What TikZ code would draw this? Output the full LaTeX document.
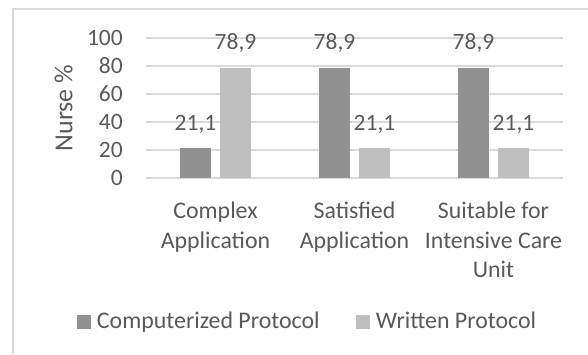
\documentclass[tikz,border=0pt]{standalone}
\usepackage{fontspec}
\setmainfont{Carlito}
\definecolor{frame}{RGB}{217,217,217}
\definecolor{grid}{RGB}{217,217,217}
\definecolor{txt}{RGB}{89,89,89}
\definecolor{darkbar}{RGB}{145,145,145}
\definecolor{lightbar}{RGB}{191,191,191}
\tikzset{
  lbl/.style={text=txt, inner sep=0pt, font=\fontsize{17.6pt}{22pt}\selectfont},
  catlbl/.style={text=txt, inner sep=0pt, align=center, font=\fontsize{17.9pt}{22pt}\selectfont},
  ttl/.style={text=txt, inner sep=0pt, font=\fontsize{19.5pt}{24pt}\selectfont},
  gridline/.style={draw=grid, line width=1pt},
  dbar/.style={fill=darkbar, draw=none},
  lbar/.style={fill=lightbar, draw=none},
}
\begin{document}
\begin{tikzpicture}[x=0.75pt,y=-0.75pt]
\useasboundingbox (0,0) rectangle (588,354);
% chart frame
\draw[frame, line width=1pt] (13,354) -- (13,9) -- (588,9);
% gridlines and tick labels
\foreach \v in {0,20,40,60,80,100}{
  \pgfmathsetmacro{\yy}{178-1.4*\v}
  \coordinate (gl\v) at (146,\yy);
  \coordinate (gr\v) at (563,\yy);
  \draw[gridline] (gl\v) -- (gr\v);
  \node[lbl, anchor=base east] (t\v) at (123,\yy+7.4) {\v};
}
% axis title
\node[ttl, rotate=90] (ytitle) at (63.5,108) {Nurse \%};
% bars
\foreach \i/\a/\b in {0/21.1/78.9, 1/78.9/21.1, 2/78.9/21.1}{
  \pgfmathsetmacro{\c}{215.5+139*\i}
  \pgfmathsetmacro{\ya}{178-1.4*\a}
  \pgfmathsetmacro{\yb}{178-1.4*\b}
  \fill[dbar] (\c-35.5,178) rectangle (\c-4.5,\ya);
  \fill[lbar] (\c+4.5,178) rectangle (\c+35.5,\yb);
}
% data labels
\node[lbl, anchor=base] (d1a) at (195.5,130.0) {21,1};
\node[lbl, anchor=base] (d1b) at (235.5,49.0) {78,9};
\node[lbl, anchor=base] (d2a) at (334.5,49.0) {78,9};
\node[lbl, anchor=base] (d2b) at (374.5,130.0) {21,1};
\node[lbl, anchor=base] (d3a) at (473.5,49.0) {78,9};
\node[lbl, anchor=base] (d3b) at (513.5,130.0) {21,1};
% category labels (base anchor = baseline of last line)
\node[catlbl, anchor=base] (c1) at (215.5,248.3) {Complex\\Application};
\node[catlbl, anchor=base] (c2) at (354.5,248.3) {Satisfied\\Application};
\node[catlbl, anchor=base] (c3) at (493.5,277.6) {Suitable for\\Intensive Care\\Unit};
% legend
\fill[darkbar] (77.3,315.3) rectangle (91,328.7);
\node[catlbl, anchor=base west] (lg1) at (96.7,328.3) {Computerized Protocol};
\fill[lightbar] (356,315.3) rectangle (370,328.7);
\node[catlbl, anchor=base west] (lg2) at (375.7,328.3) {Written Protocol};
\end{tikzpicture}
\end{document}
